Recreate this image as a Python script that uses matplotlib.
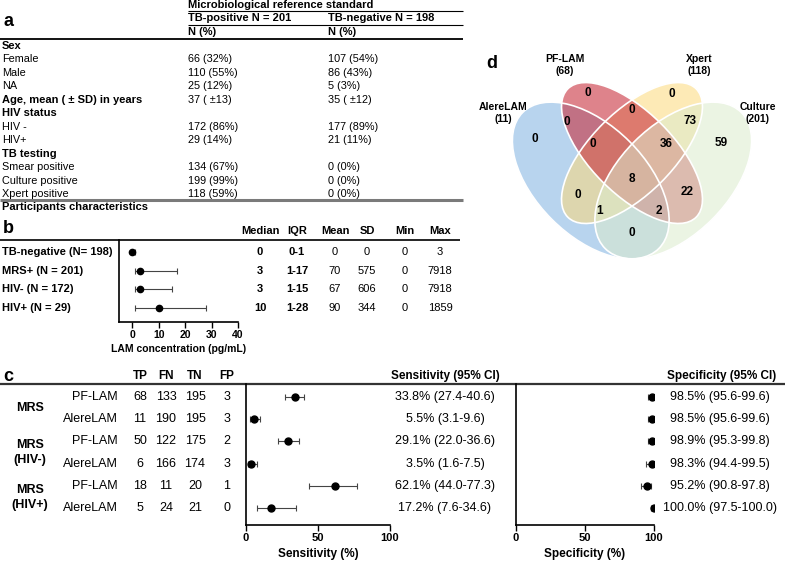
import matplotlib
matplotlib.use('Agg')
import matplotlib.pyplot as plt
from matplotlib.patches import Ellipse
from matplotlib.transforms import blended_transform_factory as blend

plt.rcParams['font.family'] = ['Liberation Sans', 'DejaVu Sans']

# ---- a: participants table
a_groups = ['TB-positive N = 201', 'TB-negative N = 198']
a_labels = ['Sex', 'Female', 'Male', 'NA', 'Age, mean ( \u00b1 SD) in years', 'HIV status',
            'HIV -', 'HIV+', 'TB testing', 'Smear positive', 'Culture positive', 'Xpert positive']
a_pos = ['', '66 (32%)', '110 (55%)', '25 (12%)', '37 ( \u00b113)', '', '172 (86%)', '29 (14%)',
         '', '134 (67%)', '199 (99%)', '118 (59%)']
a_neg = ['', '107 (54%)', '86 (43%)', '5 (3%)', '35 ( \u00b112)', '', '177 (89%)', '21 (11%)',
         '', '0 (0%)', '0 (0%)', '0 (0%)']
a_bold = [True, False, False, False, True, True, False, False, True, False, False, False]

# ---- b: LAM concentration
b_groups = ['TB-negative (N= 198)', 'MRS+ (N = 201)', 'HIV- (N = 172)', 'HIV+ (N = 29)']
b_median = [0, 3, 3, 10]
b_q1 = [0, 1, 1, 1]
b_q3 = [1, 17, 15, 28]
b_mean = [0, 70, 67, 90]
b_sd = [0, 575, 606, 344]
b_min = [0, 0, 0, 0]
b_max = [3, 7918, 7918, 1859]

# ---- c: accuracy
c_ref = ['MRS', 'MRS\n(HIV-)', 'MRS\n(HIV+)']
c_test = ['PF-LAM', 'AlereLAM', 'PF-LAM', 'AlereLAM', 'PF-LAM', 'AlereLAM']
c_tp = [68, 11, 50, 6, 18, 5]
c_fn = [133, 190, 122, 166, 11, 24]
c_tn = [195, 195, 175, 174, 20, 21]
c_fp = [3, 3, 2, 3, 1, 0]
sens = [33.8, 5.5, 29.1, 3.5, 62.1, 17.2]
sens_lo = [27.4, 3.1, 22.0, 1.6, 44.0, 7.6]
sens_hi = [40.6, 9.6, 36.6, 7.5, 77.3, 34.6]
spec = [98.5, 98.5, 98.9, 98.3, 95.2, 100.0]
spec_lo = [95.6, 95.6, 95.3, 94.4, 90.8, 97.5]
spec_hi = [99.6, 99.6, 99.8, 99.5, 97.8, 100.0]

# ---- d: venn
venn_names = ['AlereLAM\n(11)', 'PF-LAM\n(68)', 'Xpert\n(118)', 'Culture\n(201)']
venn_colors = ['#7fb1e0', '#c8303e', '#fcd97a', '#dcebcd']
venn_counts = {'A': 0, 'P': 0, 'X': 0, 'C': 59, 'AP': 0, 'PX': 0, 'XC': 73, 'APX': 0,
               'PXC': 36, 'APXC': 8, 'AX': 0, 'PC': 22, 'AXC': 1, 'APC': 2, 'AC': 0}

W, H = 785, 561
fig = plt.figure(figsize=(W / 100, H / 100), dpi=100)
ov = fig.add_axes([0, 0, 1, 1])
ov.set_xlim(0, W)
ov.set_ylim(H, 0)
ov.axis('off')


def box(x0, y0, x1, y1):
    return [x0 / W, 1 - y1 / H, (x1 - x0) / W, (y1 - y0) / H]


def hline(y, x0, x1, lw=1.0, color='black'):
    ov.plot([x0, x1], [y, y], color=color, lw=lw, solid_capstyle='butt')


def txt(x, y, s, size=7.8, bold=False, ha='left', tr=None, **kw):
    ov.text(x, y, s, fontsize=size, fontweight='bold' if bold else 'normal',
            ha=ha, va='center', transform=tr if tr is not None else ov.transData, **kw)


def style_axis(ax, size=8):
    for s in ['top', 'right']:
        ax.spines[s].set_visible(False)
    for s in ['left', 'bottom']:
        ax.spines[s].set_linewidth(1.2)
    ax.set_facecolor('none')
    ax.set_yticks([])
    ax.tick_params(axis='x', length=4, width=1, pad=2, labelsize=size)
    plt.setp(ax.get_xticklabels(), fontweight='bold')


# ================= panel a
txt(3, 21, 'a', size=13, bold=True)
txt(188, 5, 'Microbiological reference standard', size=8, bold=True)
hline(11, 188, 463, 0.8)
txt(188, 18, a_groups[0], size=8, bold=True)
txt(328, 18, a_groups[1], size=8, bold=True)
hline(25, 188, 463, 0.8)
txt(188, 32, 'N (%)', size=8, bold=True)
txt(328, 32, 'N (%)', size=8, bold=True)
hline(39, 0, 463, 1.3)
for i, lab in enumerate(a_labels):
    y = 46 + i * 13.45
    txt(2, y, lab, bold=a_bold[i], size=8 if a_bold[i] else 7.8)
    txt(188, y, a_pos[i])
    txt(328, y, a_neg[i])
hline(199.5, 0, 463, 2.2, color='#7a7a7a')
txt(2, 207, 'Participants characteristics', size=8, bold=True)

# ================= panel b
txt(3, 228, 'b', size=13, bold=True)
hline(240, 0, 460, 1.2)
ax_b = fig.add_axes(box(119, 240, 238, 322))
yb = list(range(len(b_groups)))
ax_b.errorbar(b_median, yb,
              xerr=[[m - q for m, q in zip(b_median, b_q1)], [q - m for m, q in zip(b_median, b_q3)]],
              fmt='o', color='black', ecolor='#444444', elinewidth=0.8, capsize=2.5,
              capthick=0.8, markersize=4.5)
ax_b.set_xlim(-5, 40)
ax_b.set_ylim(3.75, -0.64)
ax_b.set_xticks([0, 10, 20, 30, 40])
style_axis(ax_b, size=7.5)
ax_b.set_xlabel('LAM concentration (pg/mL)', fontsize=7.5, fontweight='bold', labelpad=3)

tb = blend(ov.transData, ax_b.transData)
cols_b = [('Median', 260, b_median, True), ('IQR', 297, None, True), ('Mean', 335, b_mean, False),
          ('SD', 367, b_sd, False), ('Min', 405, b_min, False), ('Max', 440, b_max, False)]
for name, x, vals, bold in cols_b:
    txt(x, 231, name, size=8, bold=True, ha='center')
    for i in yb:
        s = f'{b_q1[i]}-{b_q3[i]}' if vals is None else str(vals[i])
        txt(x, i, s, size=8, bold=bold, ha='center', tr=tb)
for i, g in enumerate(b_groups):
    txt(2, i, g, size=8, bold=True, tr=tb)

# ================= panel c
txt(3, 376, 'c', size=13, bold=True)
hline(384, 0, 785, 1.6, color='#333333')
for name, x in zip(['TP', 'FN', 'TN', 'FP'], [140, 166, 195, 227]):
    txt(x, 376, name, size=8.5, bold=True, ha='center')
txt(445, 376, 'Sensitivity (95% CI)', size=8.5, bold=True, ha='center')
txt(722, 376, 'Specificity (95% CI)', size=8.5, bold=True, ha='center')

ax_s = fig.add_axes(box(246, 384, 390, 525))
ax_p = fig.add_axes(box(516, 384, 654, 525))
yc = list(range(len(c_test)))
for ax, v, lo, hi, lab in [(ax_s, sens, sens_lo, sens_hi, 'Sensitivity (%)'),
                           (ax_p, spec, spec_lo, spec_hi, 'Specificity (%)')]:
    ax.errorbar(v, yc, xerr=[[a - b for a, b in zip(v, lo)], [b - a for a, b in zip(v, hi)]],
                fmt='o', color='black', ecolor='#444444', elinewidth=0.8, capsize=2.5,
                capthick=0.8, markersize=5)
    ax.set_xlim(0, 100)
    ax.set_ylim(5.75, -0.58)
    ax.set_xticks([0, 50, 100])
    style_axis(ax, size=8)
    ax.set_xlabel(lab, fontsize=8.5, fontweight='bold', labelpad=3)

tc = blend(ov.transData, ax_s.transData)
for i in yc:
    txt(118, i, c_test[i], size=9, ha='right', tr=tc)
    for x, vals in zip([140, 166, 195, 227], [c_tp, c_fn, c_tn, c_fp]):
        txt(x, i, str(vals[i]), size=9, ha='center', tr=tc)
    txt(445, i, f'{sens[i]:.1f}% ({sens_lo[i]:.1f}-{sens_hi[i]:.1f})', size=9, ha='center', tr=tc)
    txt(720, i, f'{spec[i]:.1f}% ({spec_lo[i]:.1f}-{spec_hi[i]:.1f})', size=9, ha='center', tr=tc)
for j, r in enumerate(c_ref):
    txt(30, 2 * j + 0.5, r, size=9, bold=True, ha='center', tr=tc, linespacing=1.3)

# ================= panel d (venn)
txt(486, 63, 'd', size=13, bold=True)
s = 275
cx, cy = 632, 153
ell = [(cx - 0.15 * s, cy + 0.10 * s, 0.35, 0.20, 45),
       (cx, cy, 0.33, 0.15, 45),
       (cx, cy, 0.33, 0.15, -45),
       (cx + 0.15 * s, cy + 0.10 * s, 0.35, 0.20, -45)]
alphas = [0.55, 0.6, 0.55, 0.55]
for k in [0, 2, 1, 3]:
    ex, ey, a, b, ang = ell[k]
    ov.add_patch(Ellipse((ex, ey), 2 * a * s, 2 * b * s, angle=ang, facecolor=venn_colors[k],
                         alpha=alphas[k], edgecolor='none'))
for (ex, ey, a, b, ang) in ell:
    ov.add_patch(Ellipse((ex, ey), 2 * a * s, 2 * b * s, angle=ang, facecolor='none',
                         edgecolor='white', lw=1.2))
for name, (x, y) in zip(venn_names, [(503, 113), (565, 65), (699, 65), (758, 113)]):
    txt(x, y, name, size=7.5, bold=True, ha='center', linespacing=1.25)
venn_pos = {'A': (535, 139), 'P': (588, 93), 'X': (672, 94), 'C': (721, 143),
            'AP': (567, 122), 'PX': (632, 110), 'XC': (690, 121), 'APX': (593, 144),
            'PXC': (666, 144), 'APXC': (632, 179), 'AX': (578, 195), 'PC': (687, 192),
            'AXC': (600, 211), 'APC': (659, 211), 'AC': (632, 233)}
for k, n in venn_counts.items():
    x, y = venn_pos[k]
    txt(x, y, str(n), size=8.5, bold=True, ha='center')

fig.savefig('out.png', dpi=100)
